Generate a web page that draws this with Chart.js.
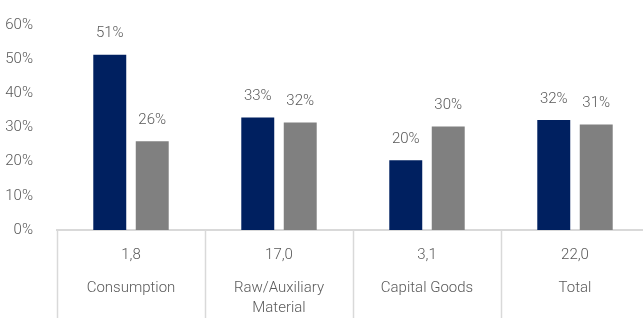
<!DOCTYPE html>
<html>
<head>
<meta charset="utf-8">
<script src="https://cdn.jsdelivr.net/npm/chart.js@4/dist/chart.umd.min.js"></script>
<style>
html,body{margin:0;padding:0;background:#fff;overflow:hidden;}
#wrap{width:652px;height:318px;position:relative;}
</style>
</head>
<body>
<div id="wrap"><canvas id="c"></canvas></div>
<script>
const categories = ["Consumption", ["Raw/Auxiliary", "Material"], "Capital Goods", "Total"];
const countLabels = ["1,8", "17,0", "3,1", "22,0"];
const seriesA = [51.3, 32.9, 20.4, 32.2];
const seriesB = [26.0, 31.5, 30.3, 30.9];
const yTicks = [0, 10, 20, 30, 40, 50, 60];

const textColor = '#595959';
const font = {family: 'Roboto', size: 15, weight: '300'};

const valueLabels = {
  id: 'valueLabels',
  afterDatasetsDraw(chart) {
    const ctx = chart.ctx;
    ctx.save();
    ctx.font = '300 15px Roboto';
    ctx.fillStyle = textColor;
    ctx.textAlign = 'center';
    ctx.textBaseline = 'middle';
    chart.data.datasets.forEach((ds, di) => {
      const meta = chart.getDatasetMeta(di);
      meta.data.forEach((bar, i) => {
        ctx.fillText(Math.round(ds.data[i]) + '%', bar.x, bar.y - 21);
      });
    });
    ctx.restore();
  }
};

const separators = {
  id: 'separators',
  afterDraw(chart) {
    const sx = chart.scales.x;
    const ctx = chart.ctx;
    const n = sx.ticks.length;
    const xs = [];
    for (let i = 0; i <= n; i++) {
      if (i === 0) xs.push(sx.left);
      else if (i === n) xs.push(sx.right);
      else xs.push((sx.getPixelForValue(i - 1) + sx.getPixelForValue(i)) / 2);
    }
    ctx.save();
    ctx.strokeStyle = '#d9d9d9';
    ctx.lineWidth = 1.5;
    xs.forEach(x => {
      ctx.beginPath();
      ctx.moveTo(Math.round(x) + 0.5, chart.chartArea.bottom);
      ctx.lineTo(Math.round(x) + 0.5, chart.height);
      ctx.stroke();
    });
    ctx.restore();
  }
};

new Chart(document.getElementById('c'), {
  type: 'bar',
  data: {
    labels: countLabels,
    datasets: [
      {data: seriesA, backgroundColor: '#002060', categoryPercentage: 0.574, barPercentage: 0.776},
      {data: seriesB, backgroundColor: '#808080', categoryPercentage: 0.574, barPercentage: 0.776}
    ]
  },
  options: {
    responsive: true,
    maintainAspectRatio: false,
    animation: false,
    layout: {padding: {top: 12, right: 3, left: 0, bottom: 0}},
    plugins: {legend: {display: false}, tooltip: {enabled: false}},
    scales: {
      y: {
        min: 0, max: 60,
        afterBuildTicks(scale) { scale.ticks = yTicks.map(v => ({value: v})); },
        afterFit(scale) { scale.width = 57; },
        grid: {display: false},
        border: {display: false},
        ticks: {color: textColor, font: font, padding: 16, callback: v => v + '%'}
      },
      x: {
        position: 'bottom',
        weight: 0,
        afterFit(scale) { scale.height = 36; },
        grid: {display: false},
        border: {display: true, color: '#d9d9d9', width: 2},
        ticks: {color: textColor, font: font, padding: 8, maxRotation: 0}
      },
      x2: {
        type: 'category',
        position: 'bottom',
        weight: 1,
        labels: categories,
        afterFit(scale) { scale.height = 52; },
        grid: {display: false},
        border: {display: false},
        ticks: {color: textColor, font: {family: 'Roboto', size: 15, weight: '300', lineHeight: 1.34}, padding: 4, maxRotation: 0, autoSkip: false}
      }
    }
  },
  plugins: [valueLabels, separators]
});
</script>
</body>
</html>
